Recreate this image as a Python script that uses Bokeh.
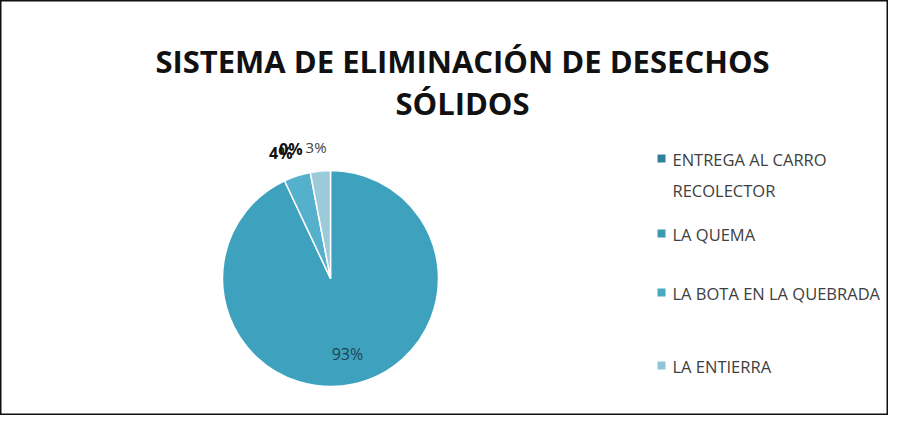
import numpy as np
from bokeh.plotting import figure
from bokeh.models import Range1d
from bokeh.core.properties import value
from bokeh.embed import file_html
from bokeh.resources import INLINE

categories = ["ENTREGA AL CARRO\nRECOLECTOR", "LA QUEMA", "LA BOTA EN LA QUEBRADA", "LA ENTIERRA"]
percents = [93, 4, 0, 3]
labels = ["93%", "4%", "0%", "3%"]
slice_colors = ["#3ea2be", "#55b1cb", "#5cb8d0", "#9ccad8"]
legend_colors = ["#31809a", "#3b99b2", "#46aac3", "#8ec6d7"]
title_lines = ["SISTEMA DE ELIMINACIÓN DE DESECHOS", "SÓLIDOS"]

W, H = 888, 415
p = figure(width=W, height=H, output_backend="svg", toolbar_location=None,
           x_range=Range1d(0, W), y_range=Range1d(0, H), min_border=0)
p.axis.visible = False
p.grid.visible = False
p.outline_line_color = "#111111"
p.outline_line_width = 2
p.background_fill_color = "white"

def py(y):  # page y -> data y
    return H - y
def px(x):
    return x

# title
for ty, line in zip([60, 102], title_lines):
    p.text(x=[px(462)], y=[py(ty)], text=[line], text_font=value("Open Sans"),
           text_font_style="bold", text_font_size="31px", text_align="center",
           text_baseline="middle", text_color="#111111")

# pie: clockwise from 12 o'clock
vals = np.array(percents, dtype=float)
frac = vals / vals.sum()
cum = np.concatenate([[0], np.cumsum(frac)])
start = np.pi / 2 - cum[1:] * 2 * np.pi
end = np.pi / 2 - cum[:-1] * 2 * np.pi
cx, cy, r = px(330), py(278), 108
nz = vals > 0
p.wedge(x=cx, y=cy, radius=r, start_angle=start[nz], end_angle=end[nz],
        fill_color=[c for c, k in zip(slice_colors, nz) if k], fill_alpha=1.0,
        line_color="white", line_width=1.5)

# data labels (outside end, with overlap nudges)
mid = (start + end) / 2
nudge_x = [0, -9, -15, -2]
pos = []
for i, m in enumerate(mid):
    k = 0.72 if i == 0 else 1.22
    pos.append((cx + k * r * np.cos(m) + nudge_x[i], cy + k * r * np.sin(m)))
lcol = ["#1f3f55", "#111111", "#111111", "#444444"]
lsize = ["16px", "16px", "16px", "15px"]
for i in range(len(labels)):
    p.text(x=[pos[i][0]], y=[pos[i][1]], text=[labels[i]], text_font=value("Open Sans"),
           text_font_size=lsize[i], text_align="center", text_baseline="middle",
           text_color=lcol[i], text_font_style="bold" if i in (1, 2) else "normal")

# legend
leg_y = [158, 233, 292, 365]
for i, cat in enumerate(categories):
    p.scatter(x=[px(661)], y=[py(leg_y[i])], marker="square", size=8,
              fill_color=legend_colors[i], line_color=None)
    p.text(x=[px(672)], y=[py(leg_y[i]) + 11], text=[cat], text_font=value("Open Sans"),
           text_font_size="16.5px", text_align="left", text_baseline="top",
           text_color="#404040", text_line_height=1.38)

open("out.html", "w").write(file_html(p, INLINE))
